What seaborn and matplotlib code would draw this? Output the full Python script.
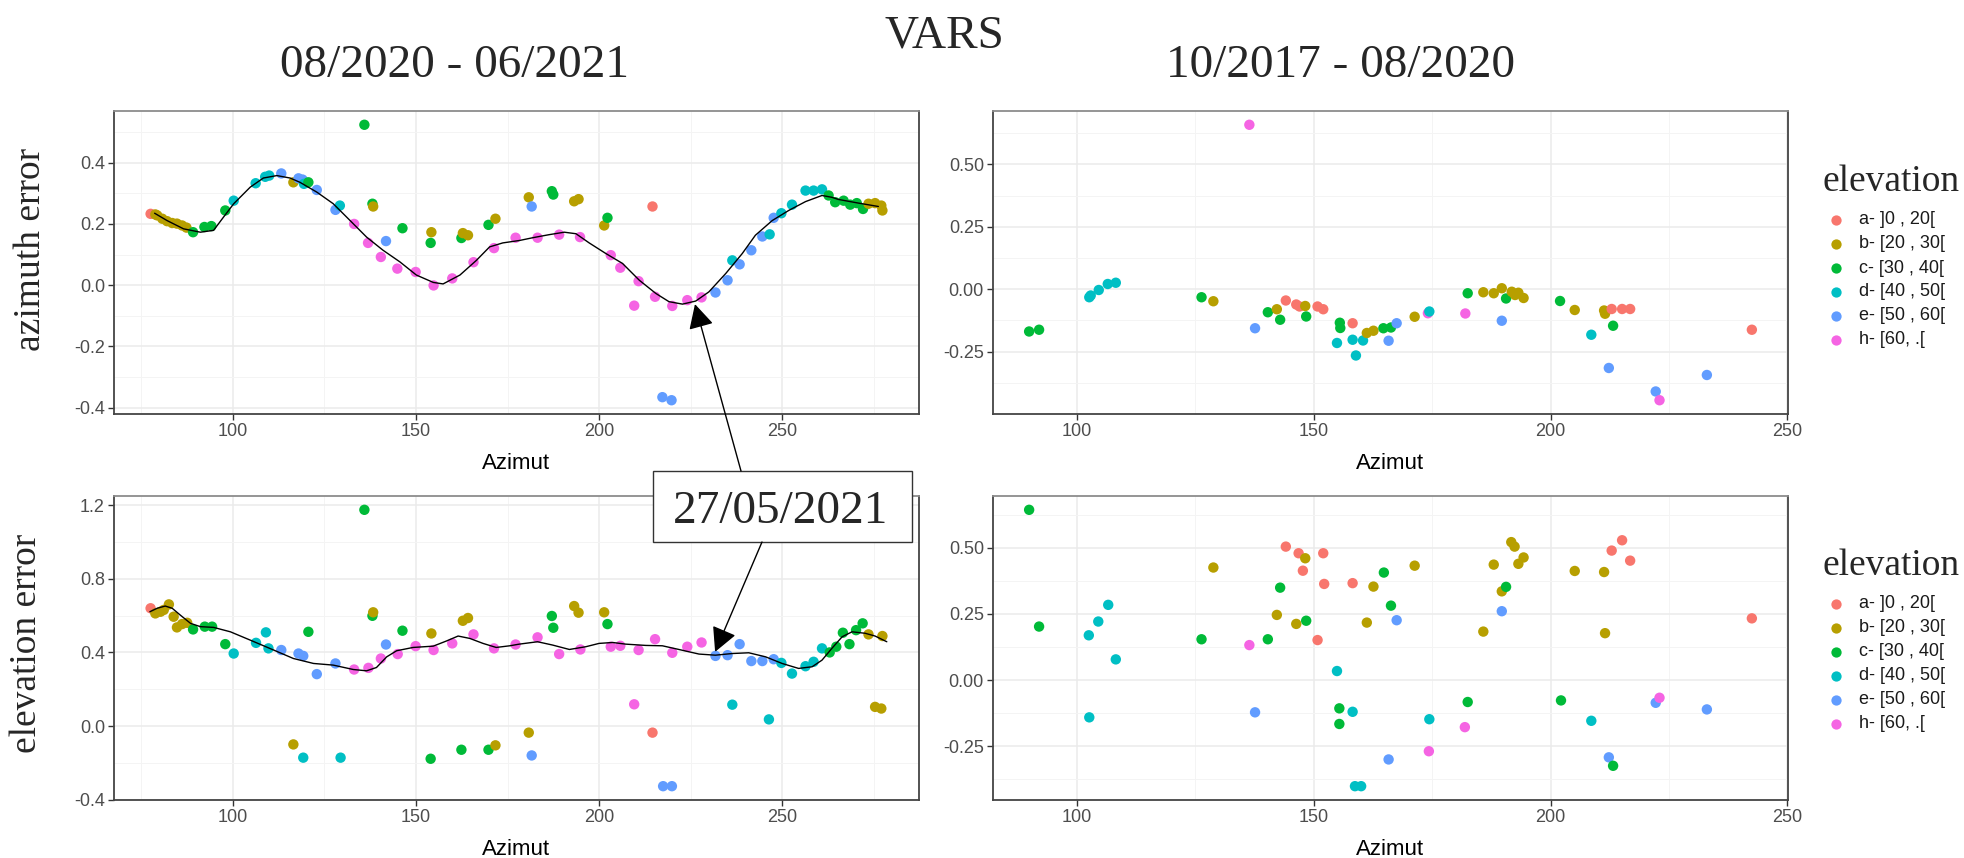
import matplotlib
matplotlib.use("Agg")
import matplotlib.pyplot as plt
import pandas as pd
import seaborn as sns
from matplotlib.lines import Line2D
from matplotlib.patches import Rectangle, ConnectionPatch
from matplotlib.ticker import FixedLocator

sns.set_style("white")
plt.rcParams["font.family"] = ["Liberation Sans", "DejaVu Sans"]
SERIF = "Liberation Serif"

# ---- elevation classes -------------------------------------------------
CLASS_CODES = ["a", "b", "c", "d", "e", "h"]
CLASS_LABELS = ["a- ]0 , 20[", "b- [20 , 30[", "c- [30 , 40[",
                "d- [40 , 50[", "e- [50 , 60[", "h- [60, .["]
CLASS_COLORS = ["#F8766D", "#B79F00", "#00BA38", "#00BFC4", "#619CFF", "#F564E3"]

# ---- 08/2020 - 06/2021 : azimuth error ---------------------------------
recent_az_azimut = [
    77.5, 78.8, 79.3, 80.7, 82.0, 83.4, 84.7, 86.1, 87.3, 89.1, 92.2, 94.1, 97.9,
    100.2, 106.2, 108.8, 109.9, 113.2, 116.5, 117.9, 119.0, 119.4, 120.6, 122.9,
    128.0, 129.2, 133.1, 135.9, 136.9, 138.1, 138.3, 140.4, 141.8, 144.9, 146.3,
    149.9, 154.0, 154.2, 154.8, 159.9, 162.4, 162.8, 164.2, 165.7, 169.8, 171.3,
    171.7, 177.2, 180.8, 181.6, 183.2, 187.1, 187.5, 189.1, 193.2, 194.4, 194.8,
    201.4, 202.3, 203.2, 205.8, 209.6, 210.8, 214.6, 215.3, 217.3, 219.8, 220.0,
    224.1, 228.0, 231.8, 235.1, 236.4, 238.4, 241.6, 244.6, 246.6, 247.7, 249.8,
    252.7, 256.4, 258.6, 260.9, 262.7, 264.5, 266.8, 268.6, 270.4, 272.1, 273.6,
    275.4, 277.1, 277.4]
recent_az_error = [
    0.233, 0.231, 0.228, 0.217, 0.209, 0.203, 0.201, 0.195, 0.188, 0.173, 0.190,
    0.193, 0.244, 0.276, 0.333, 0.354, 0.358, 0.365, 0.336, 0.349, 0.345, 0.331,
    0.336, 0.311, 0.246, 0.260, 0.200, 0.524, 0.138, 0.266, 0.257, 0.092, 0.144,
    0.054, 0.186, 0.043, 0.138, 0.173, -0.001, 0.022, 0.154, 0.170, 0.163, 0.075,
    0.197, 0.121, 0.217, 0.155, 0.287, 0.257, 0.155, 0.307, 0.296, 0.165, 0.274,
    0.281, 0.157, 0.195, 0.220, 0.098, 0.057, -0.067, 0.013, 0.257, -0.038,
    -0.366, -0.376, -0.068, -0.049, -0.040, -0.024, 0.016, 0.081, 0.068, 0.114,
    0.159, 0.166, 0.220, 0.235, 0.263, 0.309, 0.309, 0.313, 0.293, 0.271, 0.276,
    0.263, 0.268, 0.249, 0.266, 0.268, 0.260, 0.244]
recent_az_class = list(
    "a" "bbbbbbbb" "cccc" "dddd" "ebeedceed"
    "hchcbhehchcbhhcbbhchb"
    "hbehcchbbhbchhhhaheehhh"
    "eedeeededdddd" "cccccc" "bbbb")

# smoothed trend of the 27/05/2021 pass, azimuth error
trend_az_azimut = [
    78.6, 82.0, 86.5, 91.1, 94.7, 97.4, 100.2, 104.7, 108.3, 112.0, 115.6, 118.3,
    122.9, 127.4, 132.0, 136.5, 141.0, 145.6, 150.1, 154.7, 157.4, 162.0, 166.5,
    170.1, 173.7, 178.3, 181.9, 186.4, 190.5, 193.7, 197.3, 201.9, 206.4, 211.0,
    215.5, 219.1, 222.8, 226.4, 230.0, 234.6, 239.1, 242.7, 247.3, 251.8, 256.4,
    260.9, 263.6, 265.4, 270.9, 276.3]
trend_az_error = [
    0.235, 0.211, 0.184, 0.173, 0.179, 0.222, 0.266, 0.320, 0.350, 0.358, 0.350,
    0.336, 0.304, 0.266, 0.211, 0.157, 0.114, 0.076, 0.033, 0.009, 0.004, 0.033,
    0.081, 0.125, 0.138, 0.146, 0.155, 0.165, 0.173, 0.168, 0.138, 0.103, 0.071,
    0.016, -0.027, -0.054, -0.062, -0.052, -0.022, 0.038, 0.103, 0.163, 0.211,
    0.244, 0.273, 0.293, 0.287, 0.280, 0.268, 0.257]

# ---- 08/2020 - 06/2021 : elevation error -------------------------------
recent_el_azimut = [
    77.5, 78.8, 80.2, 81.1, 82.5, 83.8, 84.7, 86.1, 87.5, 89.1, 92.3, 94.3, 97.9,
    100.2, 106.3, 109.0, 109.7, 113.2, 116.5, 117.9, 119.2, 119.2, 120.6, 122.9,
    128.0, 129.4, 133.1, 135.9, 137.0, 138.1, 138.3, 140.4, 141.8, 145.0, 146.3,
    149.9, 154.0, 154.2, 154.8, 159.9, 162.4, 162.8, 164.2, 165.7, 169.8, 171.3,
    171.7, 177.2, 180.8, 181.6, 183.2, 187.1, 187.5, 189.1, 193.2, 194.4, 194.9,
    201.4, 202.3, 203.2, 205.8, 209.6, 210.8, 214.6, 215.3, 217.5, 219.9, 220.0,
    224.1, 228.0, 231.8, 235.1, 236.4, 238.4, 241.6, 244.6, 246.4, 247.7, 249.8,
    252.7, 256.4, 258.6, 260.9, 263.0, 264.8, 266.6, 268.4, 270.2, 272.0, 273.6,
    275.4, 277.1, 277.4]
recent_el_error = [
    0.640, 0.612, 0.621, 0.631, 0.661, 0.594, 0.536, 0.554, 0.561, 0.525, 0.540,
    0.540, 0.445, 0.394, 0.452, 0.509, 0.422, 0.413, -0.100, 0.394, 0.381, -0.172,
    0.512, 0.282, 0.340, -0.172, 0.307, 1.175, 0.316, 0.599, 0.618, 0.367, 0.443,
    0.391, 0.518, 0.434, -0.178, 0.503, 0.413, 0.449, -0.129, 0.572, 0.587, 0.498,
    -0.129, 0.422, -0.105, 0.443, -0.036, -0.160, 0.482, 0.598, 0.534, 0.391,
    0.652, 0.616, 0.416, 0.618, 0.554, 0.431, 0.436, 0.118, 0.413, -0.036, 0.472,
    -0.327, -0.327, 0.398, 0.431, 0.454, 0.381, 0.385, 0.116, 0.445, 0.353, 0.353,
    0.036, 0.363, 0.343, 0.285, 0.325, 0.349, 0.422, 0.400, 0.431, 0.507, 0.445,
    0.521, 0.558, 0.498, 0.104, 0.095, 0.489]
recent_el_class = list(
    "a" "bbbbbbbb" "cccc" "dddd" "ebeedceed"
    "hchcbhehchcbhhcbbhchb"
    "hbehcchbbhbchhhhaheehhh"
    "eedeeededdddd" "cccccc" "bbbb")

# smoothed trend of the 27/05/2021 pass, elevation error
trend_el_azimut = [
    77.3, 79.3, 81.5, 83.4, 85.6, 88.4, 91.1, 94.7, 99.3, 104.7, 111.1, 116.5,
    122.0, 127.4, 132.9, 136.5, 139.2, 142.0, 144.7, 149.2, 154.7, 158.3, 161.5,
    164.7, 168.3, 171.9, 175.6, 178.2, 183.2, 187.3, 191.9, 196.4, 200.0, 203.7,
    207.3, 212.8, 217.3, 221.8, 227.3, 231.8, 236.4, 240.9, 245.5, 250.0, 254.5,
    258.2, 260.9, 263.6, 266.4, 269.1, 272.7, 275.4, 278.6]
trend_el_error = [
    0.621, 0.640, 0.652, 0.640, 0.603, 0.558, 0.540, 0.536, 0.512, 0.467, 0.413,
    0.367, 0.340, 0.331, 0.307, 0.300, 0.318, 0.376, 0.409, 0.427, 0.434, 0.462,
    0.489, 0.476, 0.449, 0.427, 0.436, 0.445, 0.458, 0.440, 0.416, 0.431, 0.449,
    0.454, 0.445, 0.438, 0.436, 0.416, 0.391, 0.385, 0.394, 0.398, 0.376, 0.340,
    0.313, 0.322, 0.358, 0.422, 0.485, 0.512, 0.504, 0.489, 0.458]

# ---- 10/2017 - 08/2020 : azimuth error ---------------------------------
past_az_azimut = [
    89.9, 92.0, 102.6, 102.9, 104.6, 106.5, 108.2, 126.3, 128.8, 136.4, 137.6,
    140.3, 142.2, 142.9, 144.1, 146.3, 147.0, 148.2, 148.4, 150.8, 152.0, 154.9,
    155.5, 155.6, 158.2, 158.2, 158.9, 160.4, 161.2, 162.6, 164.7, 165.8, 166.3,
    167.5, 171.3, 174.1, 174.4, 182.0, 182.5, 185.8, 188.0, 189.7, 189.7, 190.6,
    191.8, 192.5, 193.2, 194.3, 202.0, 205.1, 208.6, 211.3, 211.5, 212.3, 212.9,
    213.2, 215.1, 216.8, 222.2, 223.0, 233.0, 242.5]
past_az_error = [
    -0.169, -0.162, -0.032, -0.025, -0.003, 0.021, 0.026, -0.032, -0.048, 0.658,
    -0.156, -0.092, -0.080, -0.122, -0.045, -0.061, -0.069, -0.067, -0.109,
    -0.069, -0.080, -0.215, -0.134, -0.155, -0.136, -0.202, -0.265, -0.205,
    -0.175, -0.166, -0.156, -0.206, -0.153, -0.136, -0.110, -0.096, -0.089,
    -0.097, -0.016, -0.012, -0.016, -0.126, 0.004, -0.037, -0.010, -0.023,
    -0.014, -0.035, -0.047, -0.083, -0.182, -0.085, -0.098, -0.315, -0.079,
    -0.146, -0.079, -0.079, -0.409, -0.444, -0.343, -0.162]
past_az_class = list(
    "ccdddddcbhe" "cbcaaabcaad" "ccadddbbcec"
    "ebhdhcbbebc" "bbbbcbdbbea" "caaehea")

# ---- 10/2017 - 08/2020 : elevation error -------------------------------
past_el_azimut = [
    89.9, 92.0, 102.5, 102.6, 104.5, 106.6, 108.2, 126.3, 128.8, 136.4, 137.6,
    140.3, 142.2, 142.9, 144.1, 146.3, 146.8, 147.7, 148.2, 148.4, 150.8, 152.0,
    152.2, 154.9, 155.4, 155.4, 158.2, 158.2, 158.7, 160.0, 161.2, 162.6, 164.8,
    165.8, 166.3, 167.5, 171.3, 174.3, 174.4, 181.9, 182.5, 185.8, 188.0, 189.7,
    189.7, 190.6, 191.7, 192.4, 193.2, 194.3, 202.2, 205.1, 208.6, 211.3, 211.5,
    212.3, 212.9, 213.2, 215.1, 216.8, 222.2, 223.0, 233.0, 242.5]
past_el_error = [
    0.643, 0.202, 0.169, -0.141, 0.221, 0.284, 0.078, 0.154, 0.425, 0.132, -0.122,
    0.154, 0.246, 0.349, 0.504, 0.212, 0.479, 0.413, 0.460, 0.224, 0.151, 0.479,
    0.363, 0.034, -0.107, -0.166, 0.366, -0.120, -0.401, -0.401, 0.217, 0.353,
    0.406, -0.300, 0.281, 0.226, 0.432, -0.269, -0.148, -0.178, -0.083, 0.183,
    0.436, 0.260, 0.335, 0.352, 0.521, 0.504, 0.439, 0.463, -0.077, 0.412, -0.154,
    0.408, 0.177, -0.292, 0.489, -0.324, 0.528, 0.451, -0.086, -0.067, -0.111,
    0.233]
past_el_class = list(
    "ccdddddcbhe" "cbcabaabcaa" "adccadddbbc"
    "ecebhdhcbbe" "bcbbbbcbdbb" "eacaaehea")

# ---- axis ticks ----------------------------------------------------------
x_ticks = [100, 150, 200, 250]
x_ticklabels = ["100", "150", "200", "250"]
recent_az_yticks = [-0.4, -0.2, 0.0, 0.2, 0.4]
recent_az_yticklabels = ["-0.4", "-0.2", "0.0", "0.2", "0.4"]
recent_el_yticks = [-0.4, 0.0, 0.4, 0.8, 1.2]
recent_el_yticklabels = ["-0.4", "0.0", "0.4", "0.8", "1.2"]
past_yticks = [-0.25, 0.0, 0.25, 0.5]
past_yticklabels = ["-0.25", "0.00", "0.25", "0.50"]

PALETTE = dict(zip(CLASS_LABELS, CLASS_COLORS))
CODE_TO_LABEL = dict(zip(CLASS_CODES, CLASS_LABELS))

W, H = 1964, 858
fig = plt.figure(figsize=(W / 100, H / 100), dpi=100)


def px_rect(left, top, right, bottom):
    return [left / W, 1 - bottom / H, (right - left) / W, (bottom - top) / H]


def fx(px):
    return px / W


def fy(px):
    return 1 - px / H


def expanded(values, frac=0.05):
    lo, hi = min(values), max(values)
    pad = (hi - lo) * frac
    return lo - pad, hi + pad


def minor_between(ticks, lim):
    step = ticks[1] - ticks[0]
    cands = [ticks[0] - step / 2] + [t + step / 2 for t in ticks]
    return [c for c in cands if lim[0] <= c <= lim[1]]


def draw_panel(ax, azimut, error, classes, yticks, yticklabels, trend=None):
    df = pd.DataFrame({
        "Azimut": azimut,
        "error": error,
        "elevation": [CODE_TO_LABEL[c] for c in classes],
    })
    sns.scatterplot(data=df, x="Azimut", y="error", hue="elevation",
                    hue_order=CLASS_LABELS, palette=PALETTE, s=56,
                    linewidth=0, legend=False, ax=ax, zorder=3)
    if trend is not None:
        sns.lineplot(x=trend[0], y=trend[1], color="black", linewidth=1.0,
                     sort=False, estimator=None, ax=ax, zorder=4)
    xlim = expanded(azimut)
    ylim = expanded(error)
    ax.set_xlim(xlim)
    ax.set_ylim(ylim)
    ax.set_xticks(x_ticks)
    ax.set_xticklabels(x_ticklabels)
    ax.set_yticks(yticks)
    ax.set_yticklabels(yticklabels)
    ax.xaxis.set_minor_locator(FixedLocator(minor_between(x_ticks, xlim)))
    ax.yaxis.set_minor_locator(FixedLocator(minor_between(yticks, ylim)))
    ax.set_axisbelow(True)
    ax.grid(which="major", color="#EBEBEB", linewidth=1.1)
    ax.grid(which="minor", color="#F4F4F4", linewidth=0.7)
    ax.tick_params(which="major", bottom=True, left=True, length=4, width=1,
                   color="#333333", labelsize=13, labelcolor="#4D4D4D", pad=2.5)
    ax.tick_params(which="minor", length=0)
    for side in ["left", "bottom", "right"]:
        ax.spines[side].set_color("#444444")
        ax.spines[side].set_linewidth(1.3)
    ax.spines["top"].set_color("#8C8C8C")
    ax.spines["top"].set_linewidth(1.3)
    ax.set_xlabel("Azimut", fontsize=16, color="black", labelpad=9)
    ax.set_ylabel("")


ax_tl = fig.add_axes(px_rect(114, 111, 919, 414))
ax_tr = fig.add_axes(px_rect(993, 111, 1788, 414))
ax_bl = fig.add_axes(px_rect(114, 496, 919, 800))
ax_br = fig.add_axes(px_rect(993, 496, 1788, 800))

draw_panel(ax_tl, recent_az_azimut, recent_az_error, recent_az_class,
           recent_az_yticks, recent_az_yticklabels,
           trend=(trend_az_azimut, trend_az_error))
draw_panel(ax_bl, recent_el_azimut, recent_el_error, recent_el_class,
           recent_el_yticks, recent_el_yticklabels,
           trend=(trend_el_azimut, trend_el_error))
draw_panel(ax_tr, past_az_azimut, past_az_error, past_az_class,
           past_yticks, past_yticklabels)
draw_panel(ax_br, past_el_azimut, past_el_error, past_el_class,
           past_yticks, past_yticklabels)

# titles
fig.text(fx(944), fy(47), "VARS", family=SERIF, fontsize=34,
         ha="center", va="baseline")
fig.text(fx(454), fy(77), "08/2020 - 06/2021", family=SERIF, fontsize=34,
         ha="center", va="baseline")
fig.text(fx(1341), fy(77), "10/2017 - 08/2020", family=SERIF, fontsize=34,
         ha="center", va="baseline")

# row titles
fig.text(fx(31), fy(249), "azimuth error", family=SERIF, fontsize=27,
         rotation=90, ha="center", va="center")
fig.text(fx(27), fy(643), "elevation error", family=SERIF, fontsize=27,
         rotation=90, ha="center", va="center")


# legends, one beside each right-hand panel
def draw_legend(title_baseline, first_row, row_step=24):
    fig.text(fx(1823), fy(title_baseline), "elevation", family=SERIF,
             fontsize=27, ha="left", va="baseline")
    for i, (label, color) in enumerate(zip(CLASS_LABELS, CLASS_COLORS)):
        y = fy(first_row + i * row_step)
        fig.add_artist(Line2D([fx(1836)], [y], transform=fig.transFigure,
                              marker="o", linestyle="", markersize=7.4,
                              markerfacecolor=color, markeredgewidth=0))
        fig.text(fx(1859), y, label, fontsize=13, color="#1A1A1A",
                 ha="left", va="center")


draw_legend(191, 220)
draw_legend(575, 604)

# date annotation linking both recent panels
box_left, box_top, box_right, box_bottom = 653, 471, 912, 542
fig.add_artist(Rectangle((fx(box_left), fy(box_bottom)),
                         (box_right - box_left) / W, (box_bottom - box_top) / H,
                         transform=fig.transFigure, facecolor="white",
                         edgecolor="#333333", linewidth=1.0, zorder=5))
fig.text(fx(781), fy(523), "27/05/2021", family=SERIF, fontsize=34,
         ha="center", va="baseline", zorder=6)

arrow_kw = dict(arrowstyle="-|>,head_length=1.5,head_width=0.78",
                mutation_scale=10, color="black", linewidth=1.0,
                shrinkA=0, shrinkB=0, zorder=6)
fig.add_artist(ConnectionPatch(xyA=(fx(741), fy(box_top)),
                               coordsA=fig.transFigure,
                               xyB=(226.2, -0.062), coordsB=ax_tl.transData,
                               **arrow_kw))
fig.add_artist(ConnectionPatch(xyA=(fx(762), fy(box_bottom)),
                               coordsA=fig.transFigure,
                               xyB=(231.7, 0.403), coordsB=ax_bl.transData,
                               **arrow_kw))

fig.savefig("out.png", dpi=100)
